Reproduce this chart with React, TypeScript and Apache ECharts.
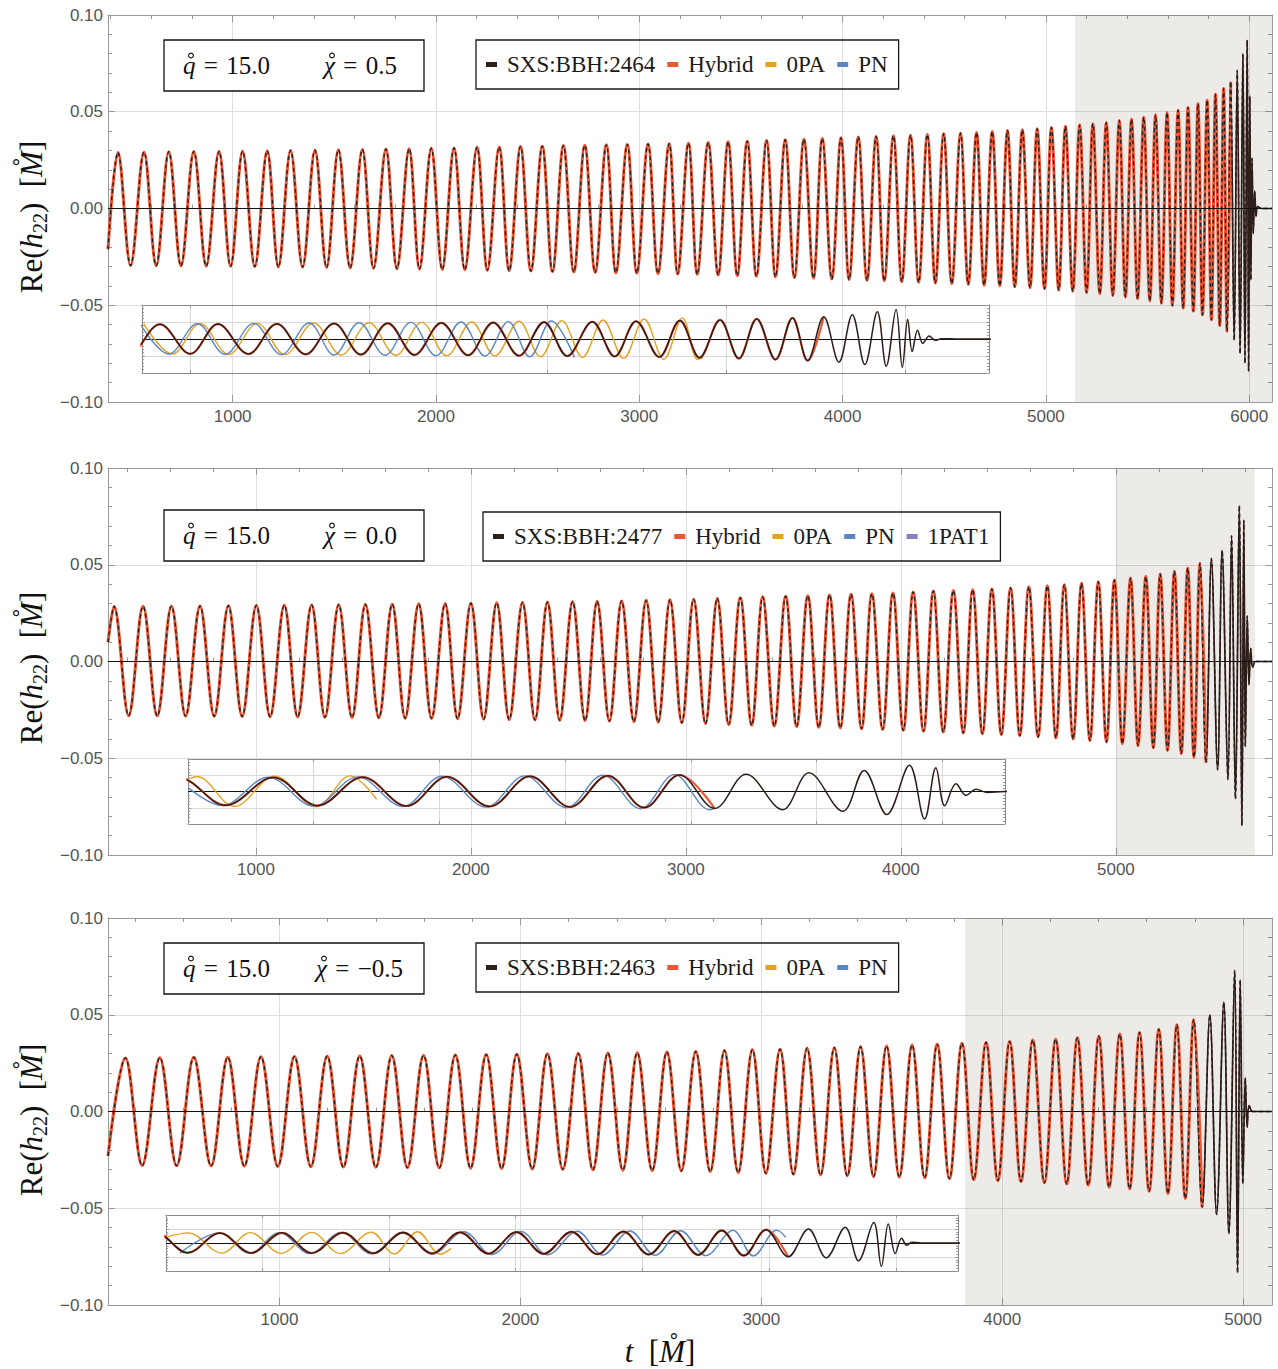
import { useEffect, useRef } from 'react';
import * as echarts from 'echarts';

// ---------- case labels ----------
const sxsIds = ['SXS:BBH:2464', 'SXS:BBH:2477', 'SXS:BBH:2463'];
const massRatios = ['15.0', '15.0', '15.0'];
const spins = ['0.5', '0.0', '\u22120.5'];
const xTickStep = 1000;
const xMinorStep = 200;

// ---------- SXS:BBH:2464 (chi = 0.5): waveform extrema ----------
const p1PeakT = [436, 564, 686, 809, 933, 1049, 1170, 1285, 1405, 1520, 1638, 1754, 1868, 1977, 2089, 2202, 2311, 2416, 2523, 2627, 2732, 2838, 2941, 3043, 3147, 3242, 3339, 3437, 3531, 3626, 3718, 3810, 3900, 3992, 4077, 4165, 4250, 4334, 4417, 4497, 4580, 4659, 4736, 4811, 4884, 4957, 5027, 5096, 5166, 5231, 5297, 5361, 5421, 5481, 5539, 5596, 5650, 5699, 5748, 5793, 5834, 5874, 5909, 5941, 5969, 5990, 6003, 6014, 6027, 6041];
const p1PeakV = [0.029, 0.0291, 0.0293, 0.0294, 0.0295, 0.0296, 0.0298, 0.03, 0.0301, 0.0303, 0.0305, 0.0307, 0.0309, 0.0311, 0.0313, 0.0316, 0.0318, 0.032, 0.0322, 0.0325, 0.0327, 0.0329, 0.0331, 0.0333, 0.0335, 0.0337, 0.0341, 0.0345, 0.0348, 0.0351, 0.0355, 0.0358, 0.0362, 0.0365, 0.037, 0.0372, 0.0376, 0.0379, 0.0382, 0.0386, 0.0389, 0.0393, 0.0398, 0.0403, 0.0407, 0.0412, 0.0419, 0.0425, 0.0432, 0.0438, 0.0444, 0.0455, 0.0462, 0.0472, 0.0484, 0.0496, 0.0508, 0.0522, 0.0541, 0.056, 0.059, 0.062, 0.0655, 0.0715, 0.08, 0.087, 0.058, 0.026, 0.009, 0.001];
const p1TroughT = [498, 624, 746, 870, 990, 1109, 1225, 1344, 1462, 1578, 1693, 1808, 1919, 2031, 2142, 2253, 2360, 2467, 2573, 2678, 2783, 2885, 2988, 3092, 3189, 3285, 3388, 3482, 3576, 3670, 3763, 3857, 3947, 4032, 4120, 4205, 4291, 4374, 4456, 4537, 4618, 4696, 4773, 4847, 4922, 4993, 5063, 5132, 5200, 5265, 5329, 5391, 5451, 5511, 5568, 5622, 5675, 5725, 5770, 5814, 5855, 5891, 5926, 5955, 5979, 5997, 6008, 6020, 6034];
const p1TroughV = [-0.0295, -0.0296, -0.0297, -0.0298, -0.0299, -0.03, -0.0302, -0.0303, -0.0305, -0.0307, -0.0309, -0.0311, -0.0313, -0.0315, -0.0317, -0.0319, -0.0321, -0.0323, -0.0326, -0.0328, -0.033, -0.0332, -0.0334, -0.0336, -0.0338, -0.034, -0.0343, -0.0347, -0.035, -0.0353, -0.0357, -0.036, -0.0364, -0.0367, -0.0371, -0.0374, -0.0378, -0.0381, -0.0385, -0.0388, -0.0392, -0.0396, -0.04, -0.0405, -0.0409, -0.0415, -0.0421, -0.0428, -0.0435, -0.0441, -0.045, -0.0458, -0.0467, -0.0478, -0.049, -0.0502, -0.0515, -0.053, -0.055, -0.0575, -0.0605, -0.0635, -0.068, -0.075, -0.08, -0.084, -0.037, -0.013, -0.004];
const p1EdgeT = [387, 6060, 6112];
const p1EdgeV = [-0.021, 0, 0];
const p1HybridEnd = 5912;
// 0PA and PN models inside the matching window
const p1ZeroPAT = [5148, 5180, 5211, 5243, 5275, 5306, 5338, 5369, 5400, 5430, 5459, 5487, 5515, 5541, 5568, 5592, 5616, 5639, 5662, 5685, 5708, 5730, 5751, 5768, 5774];
const p1ZeroPAV = [0.044, -0.044, 0.045, -0.045, 0.046, -0.046, 0.047, -0.047, 0.048, -0.048, 0.049, -0.049, 0.05, -0.05, 0.052, -0.052, 0.054, -0.054, 0.056, -0.057, 0.059, -0.06, 0.062, -0.06, -0.054];
const p1PNT = [5144, 5176, 5208, 5239, 5271, 5302, 5333, 5361, 5389, 5418, 5447, 5475, 5503, 5530, 5556, 5580, 5604, 5630];
const p1PNV = [0.044, -0.044, 0.045, -0.045, 0.046, -0.046, 0.047, -0.047, 0.048, -0.048, 0.049, -0.049, 0.05, -0.05, 0.051, -0.052, 0.053, -0.054];

// ---------- SXS:BBH:2477 (chi = 0.0): waveform extrema ----------
const p2PeakT = [340, 475, 607, 740, 872, 1002, 1132, 1259, 1385, 1509, 1634, 1757, 1880, 2000, 2120, 2240, 2356, 2473, 2587, 2701, 2815, 2926, 3036, 3146, 3253, 3357, 3464, 3567, 3668, 3768, 3865, 3963, 4057, 4151, 4244, 4334, 4423, 4510, 4595, 4681, 4760, 4840, 4918, 4993, 5068, 5139, 5206, 5272, 5334, 5391, 5444, 5494, 5538, 5574, 5595, 5611, 5627];
const p2PeakV = [0.0284, 0.0285, 0.0286, 0.0287, 0.0288, 0.029, 0.0291, 0.0292, 0.0293, 0.0295, 0.0296, 0.0298, 0.0299, 0.0301, 0.0303, 0.0305, 0.0307, 0.0309, 0.0311, 0.0313, 0.0316, 0.0319, 0.0322, 0.0326, 0.033, 0.0334, 0.0337, 0.034, 0.0344, 0.0347, 0.035, 0.0354, 0.0359, 0.0364, 0.0367, 0.0371, 0.0375, 0.038, 0.0386, 0.0391, 0.0397, 0.0404, 0.0412, 0.0421, 0.0431, 0.044, 0.0452, 0.0466, 0.0483, 0.0508, 0.0532, 0.0575, 0.065, 0.0806, 0.073, 0.0235, 0.0068];
const p2TroughT = [408, 541, 673, 806, 936, 1066, 1194, 1321, 1447, 1572, 1694, 1817, 1938, 2059, 2178, 2298, 2413, 2531, 2644, 2758, 2871, 2981, 3091, 3199, 3306, 3411, 3515, 3618, 3718, 3817, 3915, 4011, 4105, 4197, 4290, 4379, 4467, 4553, 4638, 4721, 4801, 4879, 4956, 5030, 5103, 5174, 5240, 5304, 5363, 5419, 5473, 5521, 5556, 5586, 5602, 5619, 5636];
const p2TroughV = [-0.028, -0.0281, -0.0282, -0.0283, -0.0284, -0.0285, -0.0287, -0.0288, -0.029, -0.0291, -0.0293, -0.0294, -0.0296, -0.0298, -0.03, -0.0302, -0.0304, -0.0306, -0.0308, -0.0311, -0.0314, -0.0317, -0.0321, -0.0325, -0.0329, -0.0333, -0.0336, -0.034, -0.0343, -0.0347, -0.0351, -0.0355, -0.036, -0.0364, -0.0369, -0.0373, -0.0378, -0.0383, -0.0389, -0.0395, -0.0401, -0.0408, -0.0416, -0.0425, -0.0435, -0.0446, -0.046, -0.0476, -0.0496, -0.0522, -0.056, -0.061, -0.071, -0.0848, -0.044, -0.012, -0.003];
const p2EdgeT = [312, 5650, 5726];
const p2EdgeV = [0.01, 0, 0];
const p2HybridEnd = 5420;
const p2ZeroPAT = [5002, 5007, 5037, 5069, 5102, 5129, 5150];
const p2ZeroPAV = [0.04, 0.046, -0.046, 0.047, -0.047, 0.048, -0.024];
const p2PNT = [5000, 5027, 5064, 5100, 5135, 5171, 5202, 5237, 5268, 5301, 5330, 5360, 5387, 5415, 5418];
const p2PNV = [0.012, -0.043, 0.044, -0.045, 0.045, -0.046, 0.047, -0.048, 0.048, -0.05, 0.05, -0.053, 0.052, -0.056, -0.054];
const p2OnePAT1T: number[] = [];
const p2OnePAT1V: number[] = [];

// ---------- SXS:BBH:2463 (chi = -0.5): waveform extrema ----------
const p3PeakT = [360, 503, 644, 785, 923, 1062, 1198, 1333, 1466, 1598, 1730, 1858, 1985, 2112, 2240, 2363, 2485, 2608, 2728, 2847, 2963, 3078, 3190, 3303, 3412, 3520, 3626, 3730, 3833, 3933, 4031, 4127, 4222, 4312, 4401, 4488, 4570, 4650, 4725, 4795, 4862, 4920, 4965, 4988, 5009, 5025];
const p3PeakV = [0.0277, 0.0278, 0.028, 0.0281, 0.0283, 0.0284, 0.0286, 0.0287, 0.0289, 0.029, 0.0292, 0.0294, 0.0296, 0.0298, 0.03, 0.0302, 0.0304, 0.0307, 0.031, 0.0315, 0.0319, 0.0322, 0.0327, 0.033, 0.0335, 0.0339, 0.0344, 0.0347, 0.0353, 0.0357, 0.0362, 0.0369, 0.0374, 0.0381, 0.0389, 0.04, 0.0408, 0.0425, 0.0448, 0.0475, 0.05, 0.0565, 0.073, 0.068, 0.0174, 0.003];
const p3TroughT = [430, 573, 716, 854, 993, 1130, 1265, 1400, 1531, 1663, 1793, 1922, 2049, 2176, 2301, 2425, 2547, 2668, 2788, 2904, 3019, 3133, 3246, 3357, 3466, 3573, 3678, 3781, 3882, 3982, 4078, 4175, 4268, 4357, 4444, 4529, 4610, 4688, 4760, 4830, 4890, 4941, 4977, 4999, 5017];
const p3TroughV = [-0.0279, -0.028, -0.0281, -0.0282, -0.0284, -0.0285, -0.0287, -0.0288, -0.029, -0.0291, -0.0293, -0.0295, -0.0297, -0.0299, -0.0301, -0.0303, -0.0305, -0.0307, -0.031, -0.0316, -0.032, -0.0324, -0.0328, -0.0333, -0.0337, -0.034, -0.0343, -0.0347, -0.0352, -0.0357, -0.0362, -0.0368, -0.0374, -0.0381, -0.0391, -0.04, -0.0412, -0.0425, -0.045, -0.0494, -0.0532, -0.0632, -0.0834, -0.0374, -0.0081];
const p3EdgeT = [288, 5040, 5120];
const p3EdgeV = [-0.023, 0, 0];
const p3HybridEnd = 4832;
const p3ZeroPAT = [3848, 3883, 3936, 3981, 4030, 4078, 4123, 4172, 4208, 4245, 4281, 4298];
const p3ZeroPAV = [0.02, 0.036, -0.036, 0.037, -0.037, 0.038, -0.038, 0.039, -0.039, 0.04, -0.04, -0.02];
const p3PNT = [3870, 3932, 3980, 4027, 4075, 4125, 4172, 4222, 4268, 4318, 4362, 4408, 4450, 4497, 4537, 4580, 4620, 4660, 4700, 4743, 4775, 4812, 4826];
const p3PNV = [-0.036, 0.036, -0.037, 0.037, -0.038, 0.038, -0.039, 0.039, -0.04, 0.04, -0.041, 0.041, -0.042, 0.042, -0.043, 0.043, -0.044, 0.044, -0.045, 0.045, -0.046, 0.046, 0.02];

// ---------- helpers ----------
type Pt = [number, number];
const pairs = (t: number[], v: number[]): Pt[] => t.map((x, i) => [x, v[i]] as Pt);
const curve = (...parts: Pt[][]): Pt[] => parts.flat().sort((a, b) => a[0] - b[0]);
const upTo = (pts: Pt[], tEnd: number) => pts.filter((p) => p[0] <= tEnd);
const ticksEvery = (lo: number, hi: number, step: number) => {
  const out: number[] = [];
  for (let k = Math.ceil(lo / step); k * step <= hi + 1e-9; k++) out.push(+(k * step).toFixed(6));
  return out;
};

const C_SXS = '#2e1e1a';
const C_HYB = '#ef5533';
const C_0PA = '#e6a022';
const C_PN = '#5b86c4';
const C_1PAT1 = '#8c7fc0';
const AX = '#999999';
const GRIDLINE = '#dedede';
const SERIF = 'Liberation Serif';

const panelData = [
  {
    sxs: curve(pairs(p1PeakT, p1PeakV), pairs(p1TroughT, p1TroughV), pairs(p1EdgeT, p1EdgeV)),
    hybridEnd: p1HybridEnd,
    zeroPA: pairs(p1ZeroPAT, p1ZeroPAV),
    pn: pairs(p1PNT, p1PNV),
    onePAT1: null as Pt[] | null,
  },
  {
    sxs: curve(pairs(p2PeakT, p2PeakV), pairs(p2TroughT, p2TroughV), pairs(p2EdgeT, p2EdgeV)),
    hybridEnd: p2HybridEnd,
    zeroPA: pairs(p2ZeroPAT, p2ZeroPAV),
    pn: pairs(p2PNT, p2PNV),
    onePAT1: pairs(p2OnePAT1T, p2OnePAT1V),
  },
  {
    sxs: curve(pairs(p3PeakT, p3PeakV), pairs(p3TroughT, p3TroughV), pairs(p3EdgeT, p3EdgeV)),
    hybridEnd: p3HybridEnd,
    zeroPA: pairs(p3ZeroPAT, p3ZeroPAV),
    pn: pairs(p3PNT, p3PNV),
    onePAT1: null as Pt[] | null,
  },
];

// layout of each panel (pixels) and its axis windows
const layout = [
  {
    top: 15, xMin: 387, xMax: 6112, shade: [5143, 6112],
    inset: { left: 142, top: 305, width: 847, height: 68, xMin: 5146, xMax: 6094, split: 5, step: 200 },
    legendLeft: 476, legendTop: 40, boxTop: 40, chiX: 324, titleY: 217,
  },
  {
    top: 468, xMin: 312, xMax: 5726, shade: [5000, 5647],
    inset: { left: 188, top: 759, width: 817, height: 65, xMin: 5000, xMax: 5650, split: 5, step: 100 },
    legendLeft: 483, legendTop: 512, boxTop: 510, chiX: 324, titleY: 668,
  },
  {
    top: 918, xMin: 288, xMax: 5120, shade: [3846, 5120],
    inset: { left: 166, top: 1215, width: 792, height: 56, xMin: 3848, xMax: 5098, split: 6, step: 200 },
    legendLeft: 476, legendTop: 943, boxTop: 943, chiX: 316, titleY: 1120,
  },
];

const yFmt = (v: number) => (v < -1e-9 ? '\u2212' : '') + Math.abs(v).toFixed(2);

function buildOption() {
  const grid: any[] = [];
  const xAxis: any[] = [];
  const yAxis: any[] = [];
  const series: any[] = [];
  const legend: any[] = [];
  const graphic: any[] = [];

  const tickLine = { lineStyle: { color: AX, width: 1 } };

  layout.forEach((L, i) => {
    const D = panelData[i];
    const name = sxsIds[i];

    // ---- main frame ----
    const gMain = grid.length;
    grid.push({ left: 108, top: L.top, width: 1164, height: 387 });
    const xMainIdx = xAxis.length;
    const majors = ticksEvery(L.xMin, L.xMax, xTickStep);
    xAxis.push({
      gridIndex: gMain, type: 'value', min: L.xMin, max: L.xMax, position: 'bottom',
      axisLine: { show: true, onZero: false, lineStyle: { color: AX } },
      axisTick: { show: true, inside: true, length: 7, customValues: majors, ...tickLine },
      splitLine: { show: true, lineStyle: { color: GRIDLINE, width: 1 } },
      axisLabel: {
        show: true, customValues: majors, color: '#555', fontSize: 17, fontFamily: 'Liberation Sans', margin: 6,
        formatter: (v: number) => String(Math.round(v)),
      },
    });
    xAxis.push({
      gridIndex: gMain, type: 'value', min: L.xMin, max: L.xMax, position: 'top',
      axisLine: { show: true, onZero: false, lineStyle: { color: AX } },
      axisTick: { show: true, inside: true, length: 7, customValues: majors, ...tickLine },
      splitLine: { show: false }, axisLabel: { show: false },
    });
    const yMainIdx = yAxis.length;
    const yCommon = {
      gridIndex: gMain, type: 'value', min: -0.1, max: 0.1, interval: 0.05,
      axisLine: { show: true, onZero: false, lineStyle: { color: AX } },
      axisTick: { show: true, inside: true, length: 7, ...tickLine },
      minorTick: { show: true, splitNumber: 5, length: 4, ...tickLine },
    };
    yAxis.push({
      ...yCommon, position: 'left',
      splitLine: { show: true, lineStyle: { color: GRIDLINE, width: 1 } },
      axisLabel: { show: true, color: '#555', fontSize: 17, fontFamily: 'Liberation Sans', margin: 5, formatter: yFmt },
    });
    yAxis.push({ ...yCommon, position: 'right', splitLine: { show: false }, axisLabel: { show: false } });

    // ---- minor x ticks (second, overlapping frame) ----
    const gMinor = grid.length;
    grid.push({ left: 108, top: L.top, width: 1164, height: 387 });
    const minors = ticksEvery(L.xMin, L.xMax, xMinorStep).filter((v) => Math.abs(v % xTickStep) > 1e-6);
    ['bottom', 'top'].forEach((pos) =>
      xAxis.push({
        gridIndex: gMinor, type: 'value', min: L.xMin, max: L.xMax, position: pos,
        axisLine: { show: false }, axisLabel: { show: false }, splitLine: { show: false },
        axisTick: { show: true, inside: true, length: 4, customValues: minors, ...tickLine },
      })
    );
    yAxis.push({ gridIndex: gMinor, type: 'value', min: -0.1, max: 0.1, show: false });

    // ---- inset frame ----
    const I = L.inset;
    const gIn = grid.length;
    grid.push({ left: I.left, top: I.top, width: I.width, height: I.height });
    const xInIdx = xAxis.length;
    const inTicks = ticksEvery(I.xMin, I.xMax, I.step);
    ['bottom', 'top'].forEach((pos) =>
      xAxis.push({
        gridIndex: gIn, type: 'value', min: I.xMin, max: I.xMax, position: pos, splitNumber: I.split,
        axisLine: { show: true, onZero: false, lineStyle: { color: '#888' } },
        axisTick: { show: true, inside: true, length: 3, customValues: inTicks, ...tickLine },
        axisLabel: { show: false },
        splitLine: { show: pos === 'bottom', lineStyle: { color: '#d9d9d9', width: 1 } },
      })
    );
    const yInIdx = yAxis.length;
    ['left', 'right'].forEach((pos) =>
      yAxis.push({
        gridIndex: gIn, type: 'value', min: -0.1, max: 0.1, interval: 0.05, position: pos,
        axisLine: { show: true, onZero: false, lineStyle: { color: '#888' } },
        axisTick: { show: true, inside: true, length: 3, ...tickLine },
        minorTick: { show: true, splitNumber: 5, length: 2, ...tickLine },
        axisLabel: { show: false },
        splitLine: { show: pos === 'left', lineStyle: { color: '#d9d9d9', width: 1 } },
      })
    );

    const line = { type: 'line', showSymbol: false, symbol: 'none', smooth: 0.36, animation: false, silent: true };
    const hybrid = upTo(D.sxs, D.hybridEnd);

    // ---- main curves ----
    series.push({
      ...line, name, xAxisIndex: xMainIdx, yAxisIndex: yMainIdx, data: D.sxs, z: 2,
      itemStyle: { color: C_SXS }, lineStyle: { color: C_SXS, width: 1.7 },
      markArea: {
        silent: true, itemStyle: { color: 'rgba(80,55,30,0.1)' },
        data: [[{ xAxis: L.shade[0] }, { xAxis: L.shade[1] }]],
      },
    });
    series.push({
      ...line, name: 'Hybrid', xAxisIndex: xMainIdx, yAxisIndex: yMainIdx, data: hybrid, z: 3,
      itemStyle: { color: C_HYB }, lineStyle: { color: C_HYB, width: 3 },
    });
    series.push({
      ...line, name, xAxisIndex: xMainIdx, yAxisIndex: yMainIdx, data: D.sxs, z: 4,
      itemStyle: { color: C_SXS }, lineStyle: { color: C_SXS, width: 1.4, type: [4, 3] },
      markLine: {
        silent: true, symbol: ['none', 'none'], label: { show: false },
        lineStyle: { color: '#111', width: 1.1, type: 'solid' }, data: [{ yAxis: 0 }],
      },
    });

    // ---- inset curves ----
    series.push({
      ...line, name: '0PA', xAxisIndex: xInIdx, yAxisIndex: yInIdx, data: D.zeroPA, z: 5,
      itemStyle: { color: C_0PA }, lineStyle: { color: C_0PA, width: 1.4 },
    });
    series.push({
      ...line, name: 'PN', xAxisIndex: xInIdx, yAxisIndex: yInIdx, data: D.pn, z: 5,
      itemStyle: { color: C_PN }, lineStyle: { color: C_PN, width: 1.4 },
    });
    if (D.onePAT1) {
      series.push({
        ...line, name: '1PAT1', xAxisIndex: xInIdx, yAxisIndex: yInIdx, data: D.onePAT1, z: 5,
        itemStyle: { color: C_1PAT1 }, lineStyle: { color: C_1PAT1, width: 1.4 },
      });
    }
    series.push({
      ...line, name: 'Hybrid', xAxisIndex: xInIdx, yAxisIndex: yInIdx, data: hybrid, z: 6,
      itemStyle: { color: C_HYB }, lineStyle: { color: C_HYB, width: 2.2 },
    });
    series.push({
      ...line, name, xAxisIndex: xInIdx, yAxisIndex: yInIdx, data: D.sxs, z: 7,
      itemStyle: { color: C_SXS }, lineStyle: { color: C_SXS, width: 1.5 },
      markLine: {
        silent: true, symbol: ['none', 'none'], label: { show: false },
        lineStyle: { color: '#111', width: 1, type: 'solid' }, data: [{ yAxis: 0 }],
      },
    });

    // ---- legend ----
    legend.push({
      data: [name, 'Hybrid', '0PA', 'PN', ...(D.onePAT1 ? ['1PAT1'] : [])],
      left: L.legendLeft, top: L.legendTop, orient: 'horizontal', selectedMode: false,
      padding: [13, 11, 13, 10], itemGap: 12, itemWidth: 11, itemHeight: 5, icon: 'rect',
      borderColor: '#1a1a1a', borderWidth: 1.3, backgroundColor: 'transparent',
      textStyle: { fontFamily: SERIF, fontSize: 23, color: '#1a1a1a', padding: [0, 0, 0, 5] },
    });

    // ---- parameter box ----
    const cy = L.boxTop + 25.5;
    const italic = { fontStyle: 'italic', fontFamily: SERIF, fontSize: 25, fill: '#111' };
    graphic.push({
      type: 'rect', z: 20, shape: { x: 164, y: L.boxTop, width: 260, height: 51 },
      style: { fill: '#fff', stroke: '#111', lineWidth: 1.3 },
    });
    graphic.push({
      type: 'text', z: 21, x: 183, y: cy,
      style: {
        text: `{i|q}\u2004=\u2004${massRatios[i]}`, fontFamily: SERIF, fontSize: 25, fill: '#111',
        verticalAlign: 'middle', rich: { i: italic },
      },
    });
    graphic.push({
      type: 'text', z: 21, x: L.chiX, y: cy,
      style: {
        text: `{i|\u03C7}\u2004=\u2004${spins[i]}`, fontFamily: SERIF, fontSize: 25, fill: '#111',
        verticalAlign: 'middle', rich: { i: italic },
      },
    });
    // small rings over q and chi
    [191, L.chiX + 8].forEach((rx) =>
      graphic.push({
        type: 'circle', z: 22, shape: { cx: rx, cy: cy - 10, r: 2.4 },
        style: { fill: 'none', stroke: '#111', lineWidth: 1.1 },
      })
    );

    // ---- y-axis title ----
    graphic.push({
      type: 'text', z: 21, x: 31, y: L.titleY, rotation: Math.PI / 2,
      style: {
        text: '{n|Re(}{i|h}{s|22}{n|)  [}{i|M\u030A}{n|]}',
        align: 'center', verticalAlign: 'middle', fill: '#111',
        rich: {
          n: { fontFamily: SERIF, fontSize: 31, lineHeight: 38, fill: '#111' },
          i: { fontFamily: SERIF, fontStyle: 'italic', fontSize: 31, lineHeight: 38, fill: '#111' },
          s: { fontFamily: SERIF, fontSize: 20, lineHeight: 20, verticalAlign: 'bottom', fill: '#111' },
        },
      },
    });
  });

  // ---- x-axis title ----
  graphic.push({
    type: 'text', z: 21, x: 660, y: 1351,
    style: {
      text: '{i|t}{n|  [}{i|M\u030A}{n|]}', align: 'center', verticalAlign: 'middle', fill: '#111',
      rich: {
        n: { fontFamily: SERIF, fontSize: 31, fill: '#111' },
        i: { fontFamily: SERIF, fontStyle: 'italic', fontSize: 31, fill: '#111' },
      },
    },
  });

  return {
    animation: false,
    backgroundColor: '#fff',
    grid, xAxis, yAxis, series, legend, graphic,
  };
}

export default function App() {
  const ref = useRef<HTMLDivElement>(null);
  useEffect(() => {
    document.body.style.margin = '0';
    const chart = echarts.init(ref.current!, undefined, { renderer: 'svg' });
    chart.setOption(buildOption() as any);
    return () => chart.dispose();
  }, []);
  return <div ref={ref} style={{ width: 1278, height: 1369 }} />;
}
